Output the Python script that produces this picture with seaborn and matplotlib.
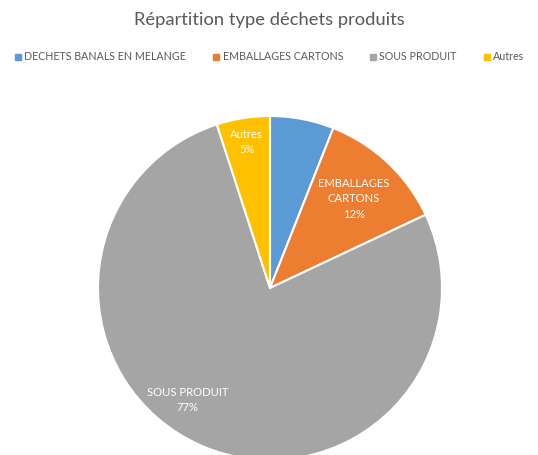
import numpy as np
import matplotlib
matplotlib.use("Agg")
import matplotlib.pyplot as plt
import seaborn as sns
from matplotlib.lines import Line2D

categories = ["DECHETS BANALS EN MELANGE", "EMBALLAGES CARTONS", "SOUS PRODUIT", "Autres"]
values = [6, 12, 77, 5]
slice_labels = ["", "EMBALLAGES\nCARTONS", "SOUS PRODUIT", "Autres"]
colors = ["#5B9BD5", "#ED7D31", "#A5A5A5", "#FFC000"]
title = "Répartition type déchets produits"

sns.set_theme(style="white")
plt.rcParams["font.family"] = ["Lato", "DejaVu Sans"]

W, H = 538, 455
fig = plt.figure(figsize=(W / 100, H / 100), dpi=100)
ax = fig.add_axes([0, 0, 1, 1])

cx, cy, R = 270, H - 288, 172
wedges, _ = ax.pie(values, colors=colors, startangle=90, counterclock=False,
                   center=(cx, cy), radius=R, frame=False,
                   wedgeprops=dict(edgecolor="white", linewidth=1.5))
ax.set_xlim(0, W)
ax.set_ylim(0, H)
ax.set_aspect("auto")
ax.axis("off")

# label placement (fraction of radius, optional angle override in degrees)
place = [None, (0.71, None), (0.81, 233.8), (0.86, None)]
total = sum(values)
for w, v, lab, p in zip(wedges, values, slice_labels, place):
    if p is None:
        continue
    frac, ang = p
    if ang is None:
        ang = (w.theta1 + w.theta2) / 2
    x = cx + R * frac * np.cos(np.radians(ang))
    y = cy + R * frac * np.sin(np.radians(ang))
    ax.text(x, y, f"{lab}\n{round(100 * v / total)}%", ha="center", va="center",
            color="white", fontsize=8.1, linespacing=1.45)

fig.text(0.5, 1 - 20 / H, title, ha="center", va="center", fontsize=13.2, color="#595959")

handles = [Line2D([0], [0], marker="s", linestyle="none", markersize=4.5,
                  markerfacecolor=c, markeredgecolor=c) for c in colors]
fig.legend(handles, categories, loc="center", bbox_to_anchor=(0.5, 1 - 57 / H), ncol=4,
           frameon=False, fontsize=7.7, labelcolor="#595959", handletextpad=0.2,
           columnspacing=2.4, handlelength=0.8)

fig.savefig("out.png", dpi=100, facecolor="white")
